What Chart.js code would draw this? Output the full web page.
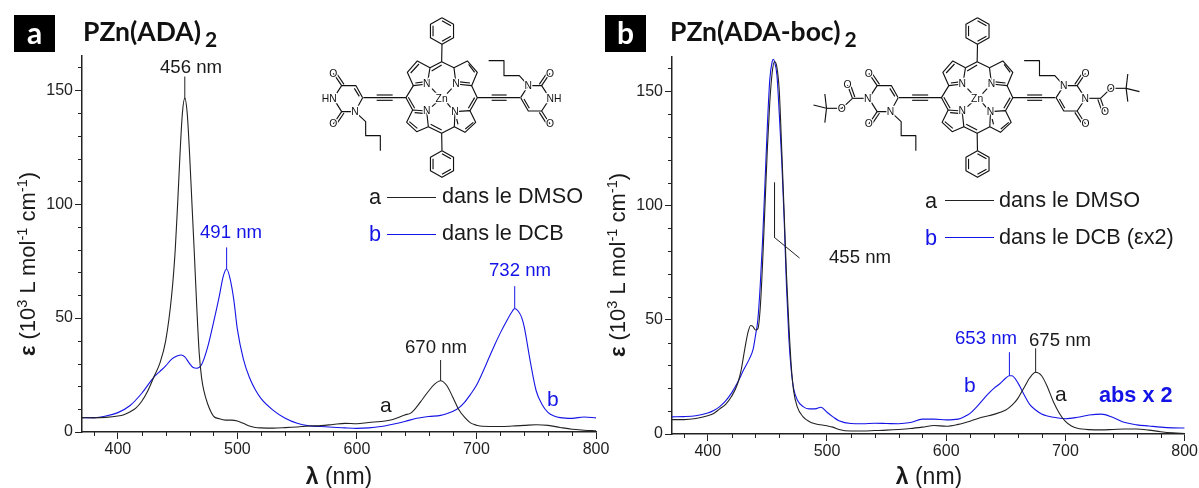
<!DOCTYPE html>
<html>
<head>
<meta charset="utf-8">
<script src="https://cdn.jsdelivr.net/npm/chart.js@4"></script>
<style>
  html, body { margin: 0; padding: 0; background: #fff; }
  #page { position: relative; width: 1199px; height: 488px; overflow: hidden; font-family: "Liberation Sans", sans-serif; color: #1a1a1a; }
  .box { position: absolute; }
  .t { position: absolute; white-space: nowrap; line-height: 1; }
  .blue { color: #1414e6; }
  .badge { position: absolute; top: 15px; width: 41px; height: 37px; background: #000; color: #fff; font: bold 30px Lato, sans-serif; text-align: center; line-height: 35px; }
  .title { position: absolute; top: 15px; font: bold 26.5px Lato, sans-serif; white-space: nowrap; color: #111; }
  .title sub { font-size: 21px; vertical-align: -6px; margin-left: 4px; line-height: 0; }
  .ytitle { position: absolute; font-size: 22px; white-space: nowrap; transform: translate(-50%, -50%) rotate(-90deg); }
  .ytitle sup { font-size: 14.5px; vertical-align: 8px; line-height: 0; }
  .xtitle { position: absolute; font-size: 23px; white-space: nowrap; transform: translateX(-50%); }
  .leg { position: absolute; height: 1px; width: 49px; }
  svg { position: absolute; left: 0; top: 0; }
  svg text { font-family: "Liberation Sans", sans-serif; font-size: 31px; text-anchor: middle; dominant-baseline: central; paint-order: stroke; stroke: #fff; stroke-width: 7px; fill: #111; }
  svg .b { fill: none; stroke: #111; stroke-width: 3.4; stroke-linejoin: round; }
</style>
</head>
<body>
<div id="page">
  <div class="box" style="left:0;top:0;width:615px;height:488px"><canvas id="chart_a"></canvas></div>
  <div class="box" style="left:590px;top:0;width:609px;height:488px"><canvas id="chart_b"></canvas></div>
  <svg id="mol" width="1199" height="488"></svg>

  <div class="badge" style="left:14px">a</div>
  <div class="title" style="left:83px">PZn(ADA)<sub>2</sub></div>
  <div class="badge" style="left:605px">b</div>
  <div class="title" style="left:670px">PZn(ADA-boc)<sub>2</sub></div>

  <div class="ytitle" style="left:28px;top:264px"><b>ε</b> (10<sup>3</sup> L mol<sup>-1</sup> cm<sup>-1</sup>)</div>
  <div class="ytitle" style="left:618px;top:265px"><b>ε</b> (10<sup>3</sup> L mol<sup>-1</sup> cm<sup>-1</sup>)</div>
  <div class="xtitle" style="left:339px;top:463px"><b>λ</b> (nm)</div>
  <div class="xtitle" style="left:929px;top:463px"><b>λ</b> (nm)</div>

  <div class="t" style="left:160px;top:58px;font-size:18.6px">456 nm</div>
  <div class="t blue" style="left:200px;top:223px;font-size:18.6px">491 nm</div>
  <div class="t blue" style="left:489px;top:261px;font-size:18.6px">732 nm</div>
  <div class="t" style="left:405px;top:338px;font-size:18.6px">670 nm</div>
  <div class="t" style="left:380px;top:394px;font-size:21px">a</div>
  <div class="t blue" style="left:547px;top:388px;font-size:21px">b</div>

  <div class="t" style="left:369px;top:186px;font-size:21.7px">a</div>
  <div class="leg" style="left:387px;top:197px;background:#222"></div>
  <div class="t" style="left:442px;top:185px;font-size:21.7px">dans le DMSO</div>
  <div class="t blue" style="left:369px;top:223px;font-size:21.7px">b</div>
  <div class="leg" style="left:387px;top:234px;background:#1414e6"></div>
  <div class="t" style="left:442px;top:222px;font-size:21.7px">dans le DCB</div>

  <div class="t" style="left:829px;top:248px;font-size:18.6px">455 nm</div>
  <div class="t blue" style="left:955px;top:329px;font-size:18.6px">653 nm</div>
  <div class="t" style="left:1029px;top:331px;font-size:18.6px">675 nm</div>
  <div class="t blue" style="left:964px;top:374px;font-size:21px">b</div>
  <div class="t" style="left:1055px;top:383px;font-size:21px">a</div>
  <div class="t blue" style="left:1099px;top:384px;font-size:21.7px;font-weight:bold">abs x 2</div>

  <div class="t" style="left:925px;top:190px;font-size:21.7px">a</div>
  <div class="leg" style="left:945px;top:200px;background:#222"></div>
  <div class="t" style="left:999px;top:189px;font-size:21.7px">dans le DMSO</div>
  <div class="t blue" style="left:925px;top:227px;font-size:21.7px">b</div>
  <div class="leg" style="left:945px;top:237px;background:#1414e6"></div>
  <div class="t" style="left:999px;top:226px;font-size:21.7px">dans le DCB (εx2)</div>
</div>

<script>
// panel a: PZn(ADA)2
const aDmsoX = [370,380,390,400,405,410,415,420,425,430,435,440,445,448,450,452,454,456,458,460,462,464,466,468,470,472,475,480,485,490,495,500,505,510,515,520,530,540,550,560,570,580,590,600,610,620,630,640,645,650,655,660,665,670,675,680,685,690,695,700,705,720,730,740,750,760,770,780,790,800];
const aDmsoY = [6.3,6.2,6.4,7,7.6,8.8,10.5,13.5,18,24,30,40,60,80,100,122,140,146.5,140,122,100,78,55,35,24,18,12.5,7,5.8,5.2,5.2,4.8,3.8,2.6,2,1.8,1.7,1.9,2.2,2.6,2.8,3.3,3.8,3.6,4.2,4.6,5.5,7.5,8.3,11,14.5,18,21,22.5,20.5,15.5,10,6.5,4,3,2.5,2.4,2.6,2.9,3.2,2.9,2,1.2,0.8,0.5];
const aDcbX = [370,380,390,400,410,420,430,435,440,445,450,453,456,460,463,466,470,475,480,485,488,491,494,497,500,505,510,515,520,530,540,550,560,570,580,590,600,610,620,630,640,650,660,670,675,680,685,690,695,700,705,710,715,720,725,730,732,735,738,740,745,750,755,760,765,770,780,790,800];
const aDcbY = [6.3,6.3,7,8.5,11.5,17,24,26.5,29,32,33.5,33.8,33,30,28.3,28,29.5,37,48,60,68,71.5,67,58,45,32,24,18.5,14.5,9.5,6,3.8,2.7,2.4,2.1,1.8,1.6,1.8,2.4,3.4,4.6,6,6.8,7.3,8,9,10.5,13,16.5,20.5,26,32,38,43.5,48.5,53,54.2,53,50,46,31,18,12,8.5,7,6.3,6,6.6,6.2];

// panel b: PZn(ADA-boc)2
const bDmsoX = [370,380,390,400,405,410,415,420,425,428,430,432,434,436,438,440,442,444,446,448,450,452,454,456,458,460,462,464,466,468,470,472,475,480,485,490,500,505,510,520,530,540,550,560,570,580,590,600,610,620,630,640,650,655,660,665,670,675,680,685,690,695,700,705,710,720,730,740,750,760,770,780,790,800];
const bDmsoY = [6.3,6.3,6.8,8,9,11,13,16.5,22,28,34,40,45,47.5,47,45.5,46,55,75,100,125,145,158,163,160.5,150,125,98,70,48,30,19,12,7.5,5.5,4.5,3.6,3,2,1.3,1.3,1.5,1.7,2,2.4,3,3.7,3.4,4.2,5.6,7.3,8.6,10.5,12.5,15.5,20,24.5,27,25.5,20.5,14,9,5.5,3.5,2.5,1.9,1.8,2,2.2,2.2,1.7,1,0.5,0.2];
const bDcbX = [370,380,390,400,405,410,415,420,425,430,435,438,440,442,444,446,448,450,452,454,455,456,458,460,462,464,466,468,470,472,475,480,485,490,495,500,505,510,520,530,540,550,560,570,580,590,600,610,615,620,625,630,635,640,645,650,653,655,660,665,670,675,680,690,700,710,720,730,740,750,760,770,780,790,800];
const bDcbY = [7.5,7.6,8,9.2,10.3,12,14.5,18,22.5,28,33,37,43,50,65,85,110,135,155,163,164,163,157,140,120,95,65,42,28,20,15,12,11,11,11.7,9.5,7.5,5.8,4.6,4.5,4.7,4.6,4.5,5,6.5,6.5,6.2,6.5,7.5,9,11.5,14.5,17.5,20,22,24.5,25.5,25.5,22.5,17.5,13,10.5,8.8,7.3,6.7,7.3,8.3,8.7,7.2,5,4,3.5,3,2.7,2.6];

// peak leader lines, [lambda, eps] pairs
const aLeadersDark = [[[456,146],[456,156]], [[670,22.5],[670,31.6]]];
const aLeadersBlue = [[[491,71.5],[491,81]], [[732,54.2],[732,64]]];
const bLeadersDark = [[[456,110],[456,86],[477,77]], [[675,27],[675,37.5]]];
const bLeadersBlue = [[[653,25.5],[653,35.8]]];

const xMajor = [400,500,600,700,800];
const xMinor = [380,420,440,460,480,520,540,560,580,620,640,660,680,720,740,760,780];
const yMajor = [0,50,100,150];
const yMinor = [10,20,30,40,60,70,80,90,110,120,130,140,160];

const DARK = '#222222';
const BLUE = '#1414e6';

function zip(xs, ys) { return xs.map((x, i) => ({ x: x, y: ys[i] })); }

function curve(xs, ys, color) {
    return { data: zip(xs, ys), borderColor: color, borderWidth: 1.1, pointRadius: 0, cubicInterpolationMode: 'monotone' };
}
function leader(points, color) {
    return { data: points.map(p => ({ x: p[0], y: p[1] })), borderColor: color, borderWidth: 1, pointRadius: 0, tension: 0 };
}

// small ticks, chart.js only has one tick length
const minorTicks = {
    id: 'minorTicks',
    afterDraw: function (chart) {
        const ctx = chart.ctx, xs = chart.scales.x, ys = chart.scales.y;
        ctx.save();
        ctx.strokeStyle = DARK;
        ctx.lineWidth = 1;
        ctx.beginPath();
        xMinor.forEach(function (v) {
            const p = Math.round(xs.getPixelForValue(v)) + 0.5;
            ctx.moveTo(p, chart.chartArea.bottom);
            ctx.lineTo(p, chart.chartArea.bottom + 4);
        });
        yMinor.forEach(function (v) {
            const p = Math.round(ys.getPixelForValue(v)) + 0.5;
            ctx.moveTo(chart.chartArea.left, p);
            ctx.lineTo(chart.chartArea.left - 4, p);
        });
        ctx.stroke();
        ctx.restore();
    }
};

function renderChart(id, datasets, pad, bottom) {
    const tickFont = { family: '"Liberation Sans"', size: 16 };
    return new Chart(document.getElementById(id), {
        type: 'line',
        data: { datasets: datasets },
        plugins: [minorTicks],
        options: {
            responsive: true,
            maintainAspectRatio: false,
            animation: false,
            layout: { padding: pad },
            plugins: { legend: { display: false }, tooltip: { enabled: false } },
            scales: {
                x: {
                    type: 'linear', min: 370, max: 800,
                    afterBuildTicks: function (s) { s.ticks = xMajor.map(v => ({ value: v })); },
                    afterFit: function (s) { s.height = bottom; },
                    border: { color: DARK, width: 1.5 },
                    grid: { drawOnChartArea: false, tickLength: 7, color: DARK },
                    ticks: { color: DARK, font: tickFont, maxRotation: 0, padding: 1 }
                },
                y: {
                    type: 'linear', min: 0, max: 165,
                    afterBuildTicks: function (s) { s.ticks = yMajor.map(v => ({ value: v })); },
                    afterFit: function (s) { s.width = 82; },
                    border: { color: DARK, width: 1.5 },
                    grid: { drawOnChartArea: false, tickLength: 7, color: DARK },
                    ticks: { color: DARK, font: tickFont, padding: 2 }
                }
            }
        }
    });
}

renderChart('chart_a', [
    curve(aDmsoX, aDmsoY, DARK),
    curve(aDcbX, aDcbY, BLUE),
    ...aLeadersDark.map(l => leader(l, DARK)),
    ...aLeadersBlue.map(l => leader(l, BLUE))
], { top: 56, right: 19 }, 56);

renderChart('chart_b', [
    curve(bDmsoX, bDmsoY, DARK),
    curve(bDcbX, bDcbY, BLUE),
    ...bLeadersDark.map(l => leader(l, DARK)),
    ...bLeadersBlue.map(l => leader(l, BLUE))
], { top: 57, right: 13.5 }, 54);

// molecule drawing, not data. coordinates are in a 3x space, see translate below
const coreBonds = [
    [330,158,292,138,262,172,280,212,322,207,330,158], [402,158,442,138,472,172,455,212,408,207,402,158],
    [320,288,278,285,260,322,290,350,325,335,320,288], [405,290,450,287,467,322,435,352,403,335,405,290],
    [330,158,365,140,402,158], [280,212,258,248,278,285], [455,212,472,248,450,287], [325,335,365,355,403,335],
    [335,168,365,150], [297,147,272,174], [286,204,318,200], [412,200,450,204], [446,148,464,172],
    [265,247,284,280], [464,248,445,280], [284,293,318,296], [268,320,292,340], [332,328,365,345], [410,312,414,328], [460,322,436,342],
    [336,221,350,236], [395,221,381,236], [336,275,350,262], [392,277,380,262],
    [366,88,365,140], [365,355,366,407],
    [130,248,258,248], [170,240,218,240], [170,256,218,256],
    [472,248,600,248], [515,240,560,240], [515,256,560,256],
    [128,248,108,212,65,212,40,250,65,290,105,290,128,248], [118,244,103,220],
    [65,212,40,175], [72,208,47,171], [65,290,40,327], [72,294,47,331],
    [105,290,137,320,137,362,181,362,181,407],
    [602,248,625,288,665,288,690,250,665,212,625,212,602,248], [612,252,628,280],
    [665,288,690,327], [658,292,683,331], [665,212,690,175], [658,208,683,171],
    [625,212,598,182,552,182,552,137,506,137]
];
const bocBonds = [
    [37,250,-9,250], [-9,250,-24,210], [-2,246,-16,207], [-9,250,-41,280], [-41,280,-87,280],
    [-87,280,-92,237], [-87,280,-126,270], [-87,280,-92,323],
    [689,250,735,250], [735,250,749,290], [727,253,741,293], [735,250,766,220], [766,220,812,220],
    [812,220,817,177], [812,220,852,230], [812,220,817,260]
];
const coreAtoms = [['N',320,207],['N',408,207],['N',320,288],['N',405,290],['Zn',365,250],['O',40,175],['O',40,327],['N',105,290],['N',625,212],['O',690,175],['O',690,327]];
const aAtoms = [['HN',28,250],['NH',702,250]];
const bAtoms = [['N',37,250],['N',689,250],['O',-24,210],['O',-41,280],['O',749,290],['O',766,220]];

function hexagon(cx, cy, r) {
    let pts = [], inner = [];
    for (let i = 0; i <= 6; i++) {
        const a = Math.PI / 3 * i - Math.PI / 2;
        pts.push(cx + r * Math.cos(a), cy + r * Math.sin(a));
        inner.push(cx + (r - 9) * Math.cos(a), cy + (r - 9) * Math.sin(a));
    }
    return [pts, inner.slice(0, 4), inner.slice(4, 8), inner.slice(8, 12)];
}

function drawMolecule(dx, bonds, atoms) {
    const all = bonds.concat(hexagon(366, 48, 40), hexagon(366, 447, 40));
    let s = '<g transform="translate(' + dx + ',15) scale(0.3333)">';
    all.forEach(function (b) { s += '<polyline class="b" points="' + b.join(',') + '"/>'; });
    atoms.forEach(function (a) { s += '<text x="' + a[1] + '" y="' + a[2] + '">' + a[0] + '</text>'; });
    return s + '</g>';
}

document.getElementById('mol').innerHTML =
    drawMolecule(320, coreBonds, coreAtoms.concat(aAtoms)) +
    drawMolecule(855.5, coreBonds.concat(bocBonds), coreAtoms.concat(bAtoms));
</script>
</body>
</html>
